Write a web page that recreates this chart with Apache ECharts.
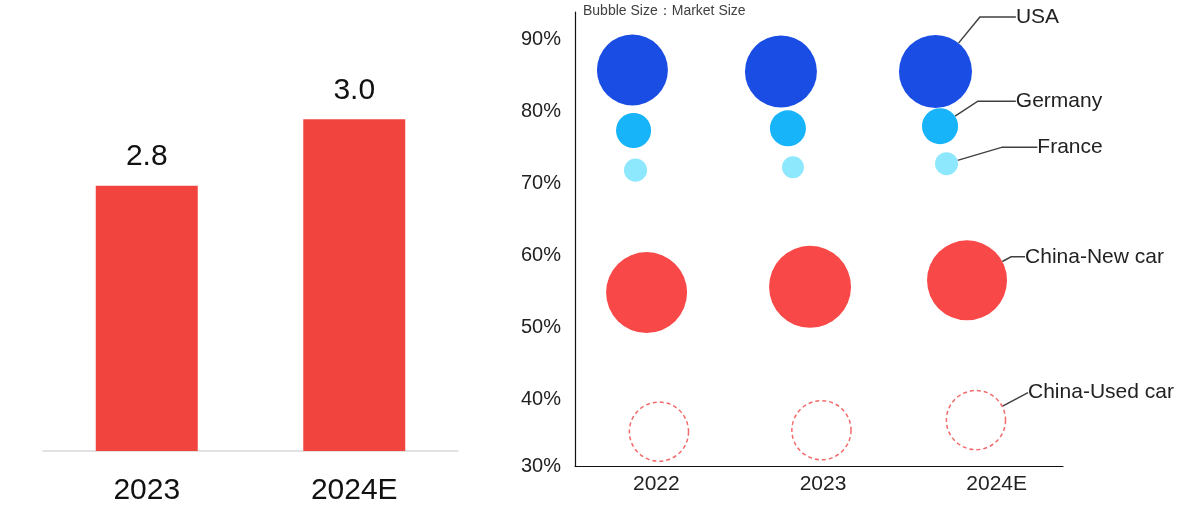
<!DOCTYPE html>
<html>
<head>
<meta charset="utf-8">
<script src="https://cdn.jsdelivr.net/npm/echarts@6/dist/echarts.min.js"></script>
<style>
html,body{margin:0;padding:0;background:#fff;}
#chart{width:1181px;height:506px;}
</style>
</head>
<body>
<div id="chart"></div>
<script>
// ---- Left bar chart data ----
const barCategories = ['2023', '2024E'];
const barValues = [2.8, 3.0];

// ---- Right bubble chart data ----
const bubbleYears = ['2022', '2023', '2024E'];
const yTickLabels = ['30%', '40%', '50%', '60%', '70%', '80%', '90%'];
// position along the year axis (0..3, each year spans 1 unit)
const usaPos = [0.353, 1.266, 2.216];
const germanyPos = [0.360, 1.309, 2.244];
const francePos = [0.372, 1.340, 2.284];
const chinaNewPos = [0.440, 1.445, 2.410];
const chinaUsedPos = [0.516, 1.515, 2.465];
// share (%)
const usaShare = [85.8, 85.6, 85.6];
const germanyShare = [77.4, 77.7, 78.0];
const franceShare = [71.9, 72.3, 72.8];
const chinaNewShare = [54.9, 55.7, 56.6];
const chinaUsedShare = [35.6, 35.8, 37.2];
// market size (relative units, bubble area)
const usaSize = [50.4, 51.8, 53.3];
const germanySize = [12.3, 13.0, 13.0];
const franceSize = [5.3, 4.8, 5.3];
const chinaNewSize = [65.6, 67.2, 64.0];
const chinaUsedSize = [35.0, 35.0, 35.0];

const FONT = '"Liberation Sans", Arial, sans-serif';
const Y_MIN = 30.83, Y_MAX = 93.85;

function pts(pos, share, size) {
  return pos.map((p, i) => [p, share[i], size[i]]);
}

function bubbleSeries(name, pos, share, size, style, lbl) {
  const last = pos.length - 1;
  const data = pts(pos, share, size).map((d, i) => {
    const item = { value: d };
    if (i === last) {
      item.label = {
        show: true,
        position: 'inside',
        formatter: name,
        color: '#222',
        fontSize: 21,
        fontFamily: FONT,
        padding: [0, 0, 0, lbl.gap]
      };
      item.labelLine = {
        show: true,
        length2: lbl.len,
        lineStyle: { color: '#404040', width: 1.5, opacity: 1 }
      };
    }
    return item;
  });
  return {
    name: name,
    type: 'scatter',
    xAxisIndex: 1,
    yAxisIndex: 1,
    data: data,
    symbolSize: d => Math.sqrt(d[2]) * 10,
    itemStyle: Object.assign({ opacity: 1 }, style),
    label: { show: false },
    labelLayout: p => (p.dataIndex === last ? { dx: lbl.dx, dy: lbl.dy } : {}),
    emphasis: { disabled: true },
    z: 3
  };
}

const chart = echarts.init(document.getElementById('chart'));
chart.setOption({
  animation: false,
  backgroundColor: '#fff',
  title: {
    text: 'Bubble Size：Market Size',
    left: 583,
    top: 4,
    padding: 0,
    textStyle: { fontSize: 14, fontWeight: 'normal', color: '#404040', fontFamily: FONT }
  },
  grid: [
    { left: 43, right: 723, top: 53, bottom: 54 },
    { left: 575, right: 118, top: 12, bottom: 40 }
  ],
  xAxis: [
    {
      gridIndex: 0,
      type: 'category',
      data: barCategories,
      axisLine: { lineStyle: { color: '#d9d9d9', width: 1.5 } },
      axisTick: { show: false },
      axisLabel: { color: '#111', fontSize: 30, fontFamily: FONT, margin: 25 }
    },
    {
      gridIndex: 1,
      type: 'value',
      min: 0,
      max: 3,
      interval: 0.5,
      splitLine: { show: false },
      axisTick: { show: false },
      axisLine: { show: true, onZero: false, lineStyle: { color: '#111', width: 1.2 } },
      axisLabel: {
        color: '#222',
        fontSize: 21,
        fontFamily: FONT,
        margin: 8,
        formatter: v => {
          const idx = Math.round(v - 0.5);
          if (Math.abs(v - 0.5 - idx) > 1e-6 || idx < 0 || idx >= bubbleYears.length) return '';
          if (idx === 1) return '{m|' + bubbleYears[idx] + '}';
          if (idx === 2) return '{e|' + bubbleYears[idx] + '}';
          return bubbleYears[idx];
        },
        rich: {
          m: { fontSize: 21, fontFamily: FONT, color: '#222', padding: [0, 0, 0, 8] },
          e: { fontSize: 21, fontFamily: FONT, color: '#222', padding: [0, 0, 0, 30] }
        }
      }
    }
  ],
  yAxis: [
    {
      gridIndex: 0,
      type: 'value',
      min: 2,
      max: 3.2,
      show: false
    },
    {
      gridIndex: 1,
      type: 'value',
      min: Y_MIN,
      max: Y_MAX,
      minInterval: 10,
      maxInterval: 10,
      splitLine: { show: false },
      axisTick: { show: false },
      axisLine: { show: true, onZero: false, lineStyle: { color: '#111', width: 1.2 } },
      axisLabel: {
        color: '#222',
        fontSize: 20,
        fontFamily: FONT,
        margin: 14,
        showMinLabel: true,
        showMaxLabel: false,
        formatter: v => {
          if (Math.abs(v - Y_MIN) < 1e-6) return yTickLabels[0];
          const r = Math.round(v / 10) * 10;
          if (Math.abs(v - r) > 1e-6) return '';
          const idx = (r - 30) / 10;
          return yTickLabels[idx] || '';
        }
      }
    }
  ],
  series: [
    {
      type: 'bar',
      xAxisIndex: 0,
      yAxisIndex: 0,
      data: barValues,
      barWidth: 102,
      itemStyle: { color: '#F2443F' },
      label: {
        show: true,
        position: 'top',
        distance: 14,
        color: '#111',
        fontSize: 30,
        fontFamily: FONT,
        formatter: p => p.value.toFixed(1)
      }
    },
    bubbleSeries('USA', usaPos, usaShare, usaSize,
      { color: '#1A4DE3' }, { dx: 99, dy: -54.5, len: 36, gap: 6 }),
    bubbleSeries('Germany', germanyPos, germanyShare, germanySize,
      { color: '#17B4FA' }, { dx: 116, dy: -25, len: 38, gap: 6 }),
    bubbleSeries('France', francePos, franceShare, franceSize,
      { color: '#8DE8FD' }, { dx: 119.5, dy: -16.5, len: 35, gap: 8 }),
    bubbleSeries('China-New car', chinaNewPos, chinaNewShare, chinaNewSize,
      { color: '#F84848' }, { dx: 125, dy: -23.5, len: 14, gap: 5 }),
    bubbleSeries('China-Used car', chinaUsedPos, chinaUsedShare, chinaUsedSize,
      { color: 'rgba(0,0,0,0)', borderColor: '#F36A6A', borderWidth: 1.5, borderType: [4, 3] },
      { dx: 122.5, dy: -27.5, len: 0, gap: 5 })
  ]
});
</script>
</body>
</html>
